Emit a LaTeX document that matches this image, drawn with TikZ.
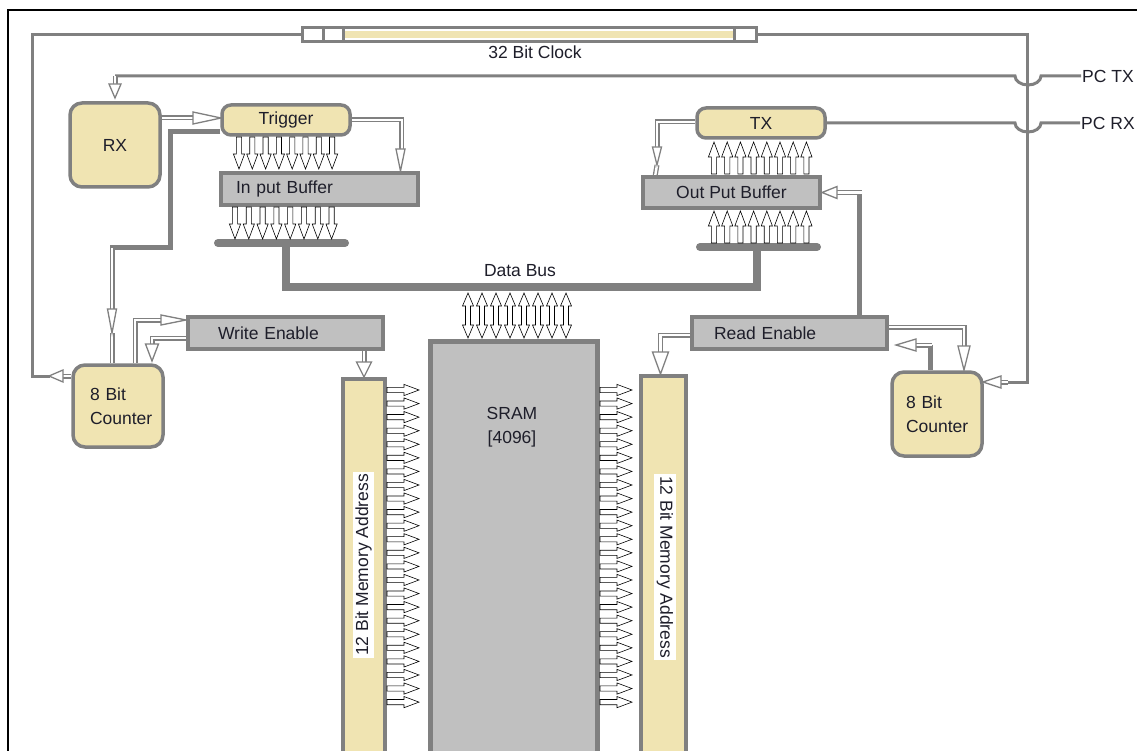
\documentclass[tikz,border=0pt]{standalone}
\usepackage{fontspec}
\setmainfont{Liberation Sans}
\usetikzlibrary{arrows.meta}
\definecolor{gcol}{HTML}{808080}
\definecolor{tanc}{HTML}{F0E4B2}
\definecolor{gboxc}{HTML}{C0C0C0}
\definecolor{txtc}{HTML}{1E1E2A}
\pgfdeclarelayer{bg}
\pgfsetlayers{bg,main}
\tikzset{
  harr/.pic={\draw[black, line width=0.6pt, fill=white, line join=miter]
     (0,-2.6) -- (17,-2.6) -- (17,-5.6) -- (32,0) -- (17,5.6) -- (17,2.6) -- (0,2.6) -- cycle;},
  darr/.pic={\draw[black, line width=0.6pt, fill=white, line join=miter]
     (0,0) -- (13,-5.5) -- (13,-2.5) -- (32,-2.5) -- (32,-5.5) -- (45,0) -- (32,5.5) -- (32,2.5) -- (13,2.5) -- (13,5.5) -- cycle;}
}
% hollow head: tip position, rotation, length, half width
\newcommand\hh[4]{\begin{scope}[shift={(#1)}, rotate=#2]
  \draw[gcol, line width=1.3pt, fill=white, line join=miter] (0,0) -- (-#3,#4) -- (-#3,-#4) -- cycle;
\end{scope}}
\begin{document}
\begin{tikzpicture}[x=1pt,y=-1pt,
  every node/.style={font=\fontsize{17.5}{24}\selectfont, text=txtc},
  tanbox/.style={draw=gcol, line width=3.5pt, fill=tanc, inner sep=0pt},
  graybox/.style={draw=gcol, line width=3.5pt, fill=gboxc, inner sep=0pt},
  wire/.style={draw=gcol, line width=3pt},
  thickwire/.style={draw=gcol, line width=5pt},
  buswire/.style={draw=gcol, line width=8pt},
  hcl/.style={draw=gcol, line width=1.3pt, double=white, double distance=2.4pt},
]
\useasboundingbox (0,0) rectangle (1137,751);

% frame
\draw[black, line width=2.5pt] (8,760) -- (8,10) -- (1137,10);

% clock bar
\node[draw=gcol, line width=3pt, fill=white, minimum width=454pt, minimum height=14pt, inner sep=0pt] (clk) at (529,35) {};
\fill[tanc] (344,31.5) rectangle (734,38.5);
\draw[gcol, line width=3pt] (323.5,29) -- (323.5,41) (343.5,29) -- (343.5,41) (734.5,29) -- (734.5,41);
\node (clklbl) at (535,52) {32 Bit Clock};

% boxes
\node[tanbox, rounded corners=12pt, minimum width=90pt, minimum height=84pt] (rx) at (115,145) {RX};
\node[tanbox, rounded corners=9pt, minimum width=128pt, minimum height=30pt] (trig) at (286,120) {Trigger};
\node[graybox, minimum width=197pt, minimum height=32pt, inner xsep=15pt, text width=167pt, align=left] (inbuf) at (319.5,189) {In put Buffer};
\node[tanbox, rounded corners=9pt, minimum width=128pt, minimum height=30pt] (tx) at (761,123) {TX};
\node[graybox, minimum width=177pt, minimum height=31pt] (outbuf) at (731.5,192.5) {Out Put Buffer};
\node[graybox, minimum width=195pt, minimum height=32pt, inner xsep=30pt, text width=135pt, align=left] (we) at (285.5,333) {Write Enable};
\node[graybox, minimum width=195pt, minimum height=32pt, inner xsep=22pt, text width=151pt, align=left] (re) at (789.5,333) {Read Enable};
\node[tanbox, rounded corners=12pt, minimum width=90pt, minimum height=82pt, inner xsep=17pt, text width=56pt, align=left] (cnt1) at (118,406) {8 Bit\\Counter};
\node[tanbox, rounded corners=12pt, minimum width=90pt, minimum height=84pt, inner xsep=14pt, text width=62pt, align=left] (cnt2) at (937,414) {8 Bit\\Counter};
\node[draw=gcol, line width=5pt, fill=gboxc, minimum width=167pt, minimum height=418pt, inner sep=0pt] (sram) at (513.5,550) {};
\node[align=center] (sramlbl) at (512,427) {SRAM\\{[4096]}};
\node[tanbox, minimum width=42pt, minimum height=382pt] (addr1) at (364,570) {};
\node[tanbox, minimum width=45pt, minimum height=386pt] (addr2) at (663.5,569) {};
\node[fill=white, rotate=90, inner sep=2.5pt] (addr1lbl) at (363.5,565) {12 Bit Memory Address};
\node[fill=white, rotate=-90, inner sep=2.5pt] (addr2lbl) at (665,567) {12 Bit Memory Address};
\node[anchor=west, inner sep=1pt] (pctx) at (1081,76) {PC TX};
\node[anchor=west, inner sep=1pt] (pcrx) at (1080,123) {PC RX};
\node (dblbl) at (520,271) {Data Bus};

% data bus
\coordinate (ib1) at (218,243);
\coordinate (ib2) at (345,243);
\coordinate (ob1) at (700,247);
\coordinate (ob2) at (817,247);

\begin{pgfonlayer}{bg}
\fill[white] (0,0) rectangle (1137,751);
% clock lines
\draw[wire] (clk.west) -| (32,376) -- (50,376);
\draw[hcl, shorten >=10pt] (cnt1.west |- 0,376) -- (49,376);
\hh{49,376}{180}{14}{6}
\draw[wire] (clk.east) -| (1027,382) -- (1006,382);
\draw[hcl, shorten >=14pt] (1008,382) -- (cnt2.east |- 0,382);
\hh{983,382}{180}{18}{6}
% PC lines
\draw[wire] (pctx.west) -- (1041,76) arc[start angle=0, end angle=180, x radius=13, y radius=9] -- (115,76);
\draw[hcl, shorten >=10pt] (115,76) -- ([yshift=5pt]rx.north);
\hh{115,98}{-90}{14}{6}
\draw[wire] (tx.east) -- (1015,123) arc[start angle=180, end angle=0, x radius=13, y radius=9] -- (pcrx.west);
% RX -> Trigger
\draw[hcl, shorten >=24pt] (rx.east |- 0,118) -- (trig.west |- 0,118);
\hh{221,118}{0}{28}{6}
% Trigger -> input buffer
\draw[hcl, shorten >=18pt] (trig.east) -| ([xshift=-18pt]inbuf.north east);
\hh{400.5,171}{-90}{22}{4.5}
% Trigger -> counter 1
\draw[thickwire] ([yshift=-12pt]trig.west) -- (170,132) -- (170,248) -- (110,248);
\draw[hcl, shorten >=20pt] (112,248) -- (112,333);
\draw[hcl] (112,333) -- (cnt1.north -| 112,0);
\hh{112,333}{-90}{24}{4.5}
% counter 1 <-> write enable
\draw[hcl, shorten >=20pt] ([xshift=17pt]cnt1.north) |- ([yshift=13pt]we.west);
\hh{186,320}{0}{25}{5}
\draw[hcl, shorten >=13pt] ([yshift=-5pt]we.west) -| ([xshift=34pt,yshift=4pt]cnt1.north);
\hh{152,361}{-90}{17}{6.5}
\draw[hcl, shorten >=11pt] (we.south -| addr1.north) -- (addr1.north);
\hh{364,377}{-90}{15}{7.5}
% read enable
\draw[hcl, shorten >=18pt] ([yshift=-2pt]re.west) -| ([xshift=-3pt]addr2.north);
\hh{660.5,374}{-90}{22}{8}
\draw[thickwire] ([xshift=70pt]re.north) -- (859.5,192);
\draw[hcl, shorten >=11pt] (862,192.5) -- (outbuf.east);
\hh{822,192.5}{180}{15}{6}
\draw[hcl, shorten >=20pt] ([yshift=6pt]re.east) -| ([xshift=27pt]cnt2.north);
\hh{964,370}{-90}{24}{6}
\draw[thickwire] ([xshift=-7pt]cnt2.north) -- (930,345);
\draw[hcl, shorten >=16pt] (932,345) -- (896,345);
\hh{896,345}{180}{20}{6}
% TX -> output buffer
\draw[hcl, shorten >=14pt] ([yshift=1pt]tx.west) -| (657,165);
\draw[hcl] (657,165) -- ([xshift=14pt]outbuf.north west);
\hh{657,165}{-90}{18}{4.5}
% data bus
\draw[buswire, line cap=round] (ib1) -- (ib2);
\draw[buswire, line cap=round] (ob1) -- (ob2);
\draw[buswire] (286,243) -- (286,287) -- (757,287) -- (757,247);
\end{pgfonlayer}

% arrow arrays
\foreach \i in {0,...,7} {
  \pic[rotate=-90] at ({239+13.3*\i},137) {harr};
  \pic[rotate=-90] at ({235+13.8*\i},207) {harr};
  \pic[rotate=90] at ({714+13.2*\i},174) {harr};
  \pic[rotate=90] at ({714+13.2*\i},243) {harr};
  \pic[rotate=-90] at ({468+14*\i},293) {darr};
}
\foreach \i in {0,...,23} {
  \pic at (387,{390+13.57*\i}) {harr};
  \pic at (600,{390+13.57*\i}) {harr};
}
\end{tikzpicture}
\end{document}
